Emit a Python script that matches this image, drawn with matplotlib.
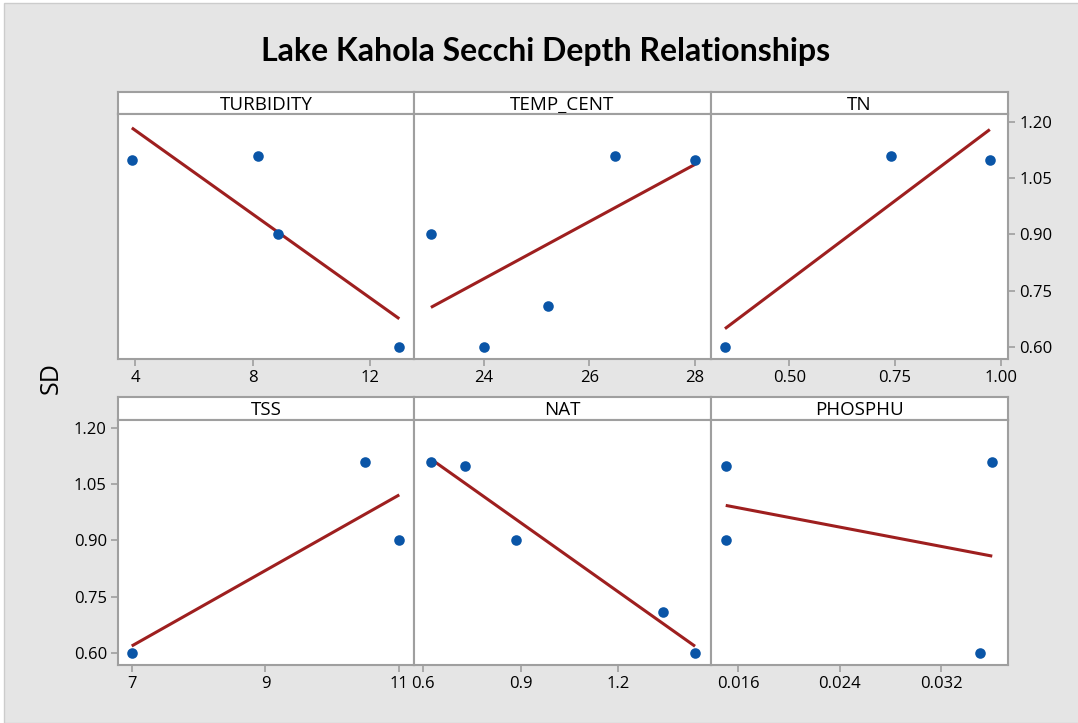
import numpy as np
import matplotlib
matplotlib.use("Agg")
import matplotlib.pyplot as plt
from matplotlib.patches import Rectangle
from matplotlib.ticker import FormatStrFormatter

# Secchi depth (SD) for each sampling, and the predictors (nan = not measured)
sd = [1.10, 1.11, 0.90, 0.71, 0.60]
turbidity = [3.89, 8.17, 8.87, np.nan, 12.99]
temp_cent = [28.0, 26.49, 23.0, 25.21, 24.0]
tn = [0.974, 0.74, np.nan, np.nan, 0.348]
tss = [np.nan, 10.49, 11.0, np.nan, 7.0]
nat = [0.730, 0.625, 0.887, 1.338, 1.435]
phosphu = [0.015, 0.036, 0.015, np.nan, 0.035]

panel_names = ["TURBIDITY", "TEMP_CENT", "TN", "TSS", "NAT", "PHOSPHU"]
panel_data = [turbidity, temp_cent, tn, tss, nat, phosphu]
x_ticks = [[4, 8, 12], [24, 26, 28], [0.50, 0.75, 1.00],
           [7, 9, 11], [0.6, 0.9, 1.2], [0.016, 0.024, 0.032]]
x_formats = ["%g", "%g", "%.2f", "%g", "%.1f", "%.3f"]
x_limits = [(3.42, 13.49), (22.68, 28.30), (0.315, 1.017),
            (6.795, 11.22), (0.573, 1.484), (0.01384, 0.03724)]
y_ticks = [0.60, 0.75, 0.90, 1.05, 1.20]

W, H = 1078, 723
BG = "#e5e5e5"
FRAME = "#9f9f9f"
DOT = "#0a55a7"
FIT = "#9e1f1f"

plt.rcParams["font.family"] = ["Open Sans", "DejaVu Sans"]

fig = plt.figure(figsize=(W / 100, H / 100), dpi=100)
fig.patch.set_facecolor("white")
fig.patches.append(Rectangle((4 / W, 0), 1, 1 - 3 / H, transform=fig.transFigure,
                             facecolor=BG, edgecolor="#cccccc", lw=1, zorder=-10))


def px_box(x0, y0, x1, y1):
    return [x0 / W, 1 - y1 / H, (x1 - x0) / W, (y1 - y0) / H]


col_edges = [118, 414, 711, 1008]
rows = [(92, 114, 359), (397, 420, 665)]

for i, (name, xs) in enumerate(zip(panel_names, panel_data)):
    r, c = divmod(i, 3)
    s_top, p_top, p_bot = rows[r]
    x0, x1 = col_edges[c], col_edges[c + 1]

    # strip with the panel name
    sax = fig.add_axes(px_box(x0, s_top, x1, p_top))
    sax.set_facecolor("white")
    sax.set_xticks([])
    sax.set_yticks([])
    for sp in sax.spines.values():
        sp.set_color(FRAME)
        sp.set_linewidth(1.5)
    sax.text(0.5, 0.42, name, ha="center", va="center", fontsize=13.5,
             transform=sax.transAxes)

    ax = fig.add_axes(px_box(x0, p_top, x1, p_bot))
    ax.set_facecolor("white")
    for sp in ax.spines.values():
        sp.set_color(FRAME)
        sp.set_linewidth(1.5)

    x = np.array(xs, dtype=float)
    y = np.array(sd, dtype=float)
    ok = ~np.isnan(x)
    x, y = x[ok], y[ok]
    slope, icpt = np.polyfit(x, y, 1)
    xl = np.array([x.min(), x.max()])
    ax.plot(xl, icpt + slope * xl, color=FIT, lw=2.2, solid_capstyle="butt", zorder=2)
    ax.scatter(x, y, s=58, color=DOT, zorder=3, linewidths=0)

    ax.set_xlim(*x_limits[i])
    ax.set_ylim(0.567, 1.222)
    ax.set_xticks(x_ticks[i])
    ax.xaxis.set_major_formatter(FormatStrFormatter(x_formats[i]))
    ax.tick_params(axis="both", direction="out", length=5, width=1.2,
                   color=FRAME, labelsize=12, pad=3)

    ax.set_yticks(y_ticks)
    ax.yaxis.set_major_formatter(FormatStrFormatter("%.2f"))
    if r == 0 and c == 2:
        ax.yaxis.tick_right()
    elif r == 1 and c == 0:
        ax.yaxis.tick_left()
    else:
        ax.tick_params(axis="y", left=False, right=False,
                       labelleft=False, labelright=False)

fig.text(546 / W, 1 - 61 / H, "Lake Kahola Secchi Depth Relationships",
         ha="center", va="baseline", fontsize=23, fontweight="bold",
         family=["Lato", "DejaVu Sans"])
fig.text(51 / W, 1 - 378 / H, "SD", rotation=90, ha="center", va="center",
         fontsize=18)

fig.savefig("out.png", dpi=100, facecolor=fig.get_facecolor())
